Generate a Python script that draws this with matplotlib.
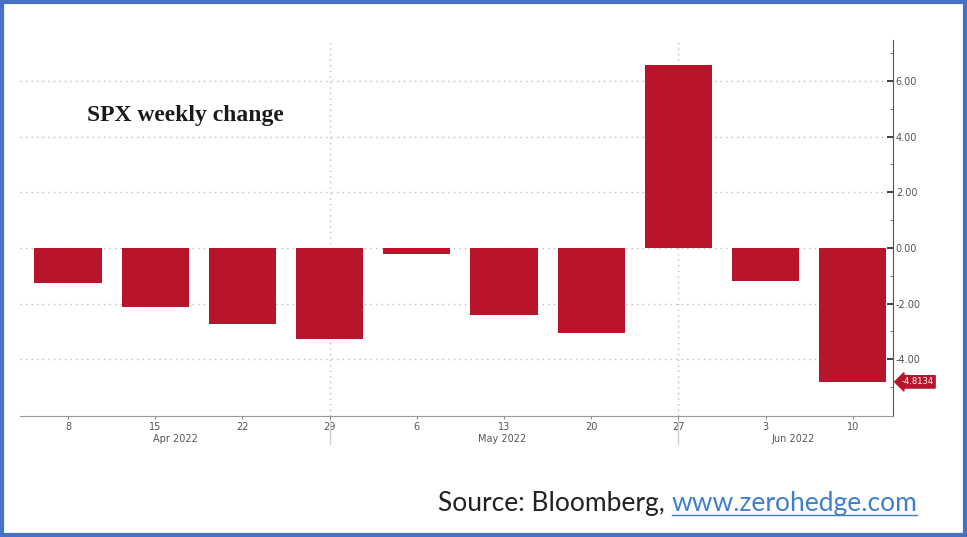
import matplotlib.pyplot as plt
import matplotlib.transforms as mtransforms
from matplotlib.patches import Rectangle
import numpy as np

# weekly SPX change (%)
week_labels = ["8", "15", "22", "29", "6", "13", "20", "27", "3", "10"]
changes = [-1.27, -2.13, -2.75, -3.27, -0.21, -2.41, -3.05, 6.58, -1.20, -4.8134]
month_labels = ["Apr 2022", "May 2022", "Jun 2022"]
month_pos = [1.23, 4.98, 8.32]
month_breaks = [3, 7]

bar_color = "#b8142b"

fig = plt.figure(figsize=(9.67, 5.37), dpi=100)
ax = fig.add_axes([0.0207, 0.2253, 0.9028, 0.7002])

x = np.arange(len(changes))
ax.bar(x, changes, width=0.77, color=bar_color, zorder=3)

ax.set_xlim(-0.55, 9.46)
ax.set_ylim(-6.04, 7.47)

# y axis on the right
ax.yaxis.tick_right()
ax.set_yticks([-4, -2, 0, 2, 4, 6])
ax.set_yticklabels([f"{v:.2f}" for v in [-4, -2, 0, 2, 4, 6]])
ax.set_yticks(np.arange(-5, 8, 1), minor=True)
ax.tick_params(axis="y", which="major", direction="in", length=4, width=1.2,
               labelsize=7, labelcolor="#555555", pad=2, color="#222222")
ax.tick_params(axis="y", which="minor", direction="in", length=2, color="#666666")

ax.set_xticks(x)
ax.set_xticklabels(week_labels)
ax.tick_params(axis="x", length=2, labelsize=7, labelcolor="#555555", color="#888888", pad=2)

for s in ["top", "left"]:
    ax.spines[s].set_visible(False)
ax.spines["right"].set_color("#555555")
ax.spines["bottom"].set_color("#999999")
ax.spines["bottom"].set_linestyle((0, (2, 1)))

ax.grid(axis="y", linestyle=(0, (1, 3)), color="#bbbbbb", linewidth=1, zorder=0)
for b in month_breaks:
    ax.axvline(b, linestyle=(0, (1, 3)), color="#bbbbbb", linewidth=1, zorder=0)

# month labels and separators under the axis
trans = mtransforms.blended_transform_factory(ax.transData, ax.transAxes)
for lab, p in zip(month_labels, month_pos):
    ax.text(p, -0.048, lab, transform=trans, ha="center", va="top",
            fontsize=7, color="#555555")
for b in month_breaks:
    ax.plot([b, b], [-0.01, -0.075], transform=trans, color="#cccccc",
            linewidth=1, clip_on=False)

# last value tag
ax.annotate(f"{changes[-1]:.4f}", xy=(1.0, changes[-1]), xycoords=("axes fraction", "data"),
            xytext=(6, 0), textcoords="offset points", ha="left", va="center",
            fontsize=6, color="white",
            bbox=dict(boxstyle="larrow,pad=0.2", fc=bar_color, ec=bar_color))

ax.text(0.077, 0.785, "SPX weekly change", transform=ax.transAxes,
        fontsize=17, fontweight="bold", family="Liberation Serif", color="#1a1a1a")

# source line
t1 = fig.text(0.453, 0.062, "Source: Bloomberg, ", fontsize=19, family="Lato",
              color="#222222", va="center")
fig.canvas.draw()
bb = t1.get_window_extent()
x_link = bb.x1 / fig.bbox.width
t2 = fig.text(x_link, 0.062, "www.zerohedge.com", fontsize=19, family="Lato",
              color="#3f7fd0", va="center")
fig.canvas.draw()
bb2 = t2.get_window_extent()
fig.add_artist(plt.Line2D([bb2.x0 / fig.bbox.width, bb2.x1 / fig.bbox.width],
                          [bb2.y0 / fig.bbox.height + 0.003] * 2,
                          transform=fig.transFigure, color="#3f7fd0", linewidth=1))

# blue frame around the picture
fig.add_artist(Rectangle((0.002, 0.004), 0.996, 0.992, transform=fig.transFigure,
                         fill=False, ec="#4472c4", linewidth=3))

fig.savefig("out.png", dpi=100)
